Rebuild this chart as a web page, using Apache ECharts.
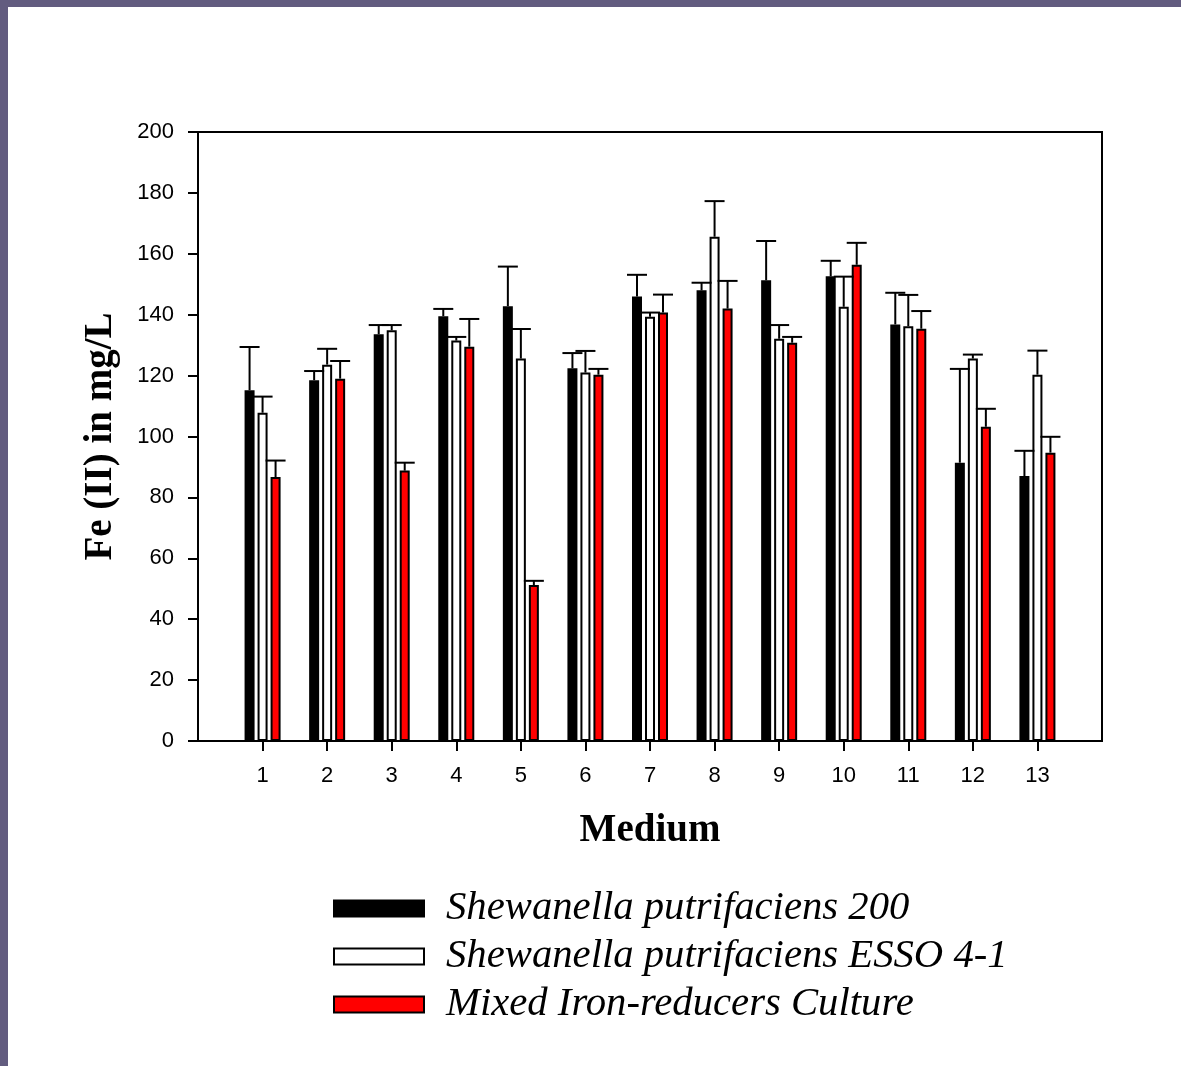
<!DOCTYPE html>
<html>
<head>
<meta charset="utf-8">
<style>
html,body{margin:0;padding:0;background:#fff;}
#chart{width:1181px;height:1066px;}
</style>
<script src="https://cdn.jsdelivr.net/npm/echarts@6/dist/echarts.min.js"></script>
</head>
<body>
<div id="chart"></div>
<script>
// Data
const media = ['1','2','3','4','5','6','7','8','9','10','11','12','13'];
const yTicks = [0,20,40,60,80,100,120,140,160,180,200];
const seriesNames = ['Shewanella putrifaciens 200','Shewanella putrifaciens ESSO 4-1','Mixed Iron-reducers Culture'];
const sp200 = [115.2,118.5,133.6,139.5,142.8,122.4,146.0,148.0,151.3,152.6,136.8,91.4,87.0];
const sp200Err = [14.2,3.0,3.0,2.4,13.0,5.0,7.1,2.5,12.9,5.1,10.4,30.8,8.3];
const esso = [107.8,123.6,134.9,131.5,125.6,121.0,139.3,165.6,132.1,142.6,136.2,125.6,120.3];
const essoErr = [5.3,5.2,1.7,1.2,9.7,7.1,1.4,11.7,4.5,9.9,10.3,1.3,7.9];
const mixed = [86.7,119.0,88.8,129.5,51.2,120.3,140.7,142.0,130.8,156.4,135.4,103.2,94.7];
const mixedErr = [5.4,5.8,2.6,9.1,1.4,1.9,5.9,9.1,1.9,7.2,5.8,5.9,5.2];

const axisCats = [''].concat(media).concat(['']);
const pad = arr => [null].concat(arr).concat([null]);

const BAR_W = 10, GAP = '30%', STEP = 13;

function errSeries(vals, errs, offset) {
  return {
    type: 'custom',
    z: 5,
    silent: true,
    data: vals.map((v, i) => [i + 1, v, v + errs[i]]),
    renderItem: function (params, api) {
      const base = api.coord([api.value(0), api.value(1)]);
      const top = api.coord([api.value(0), api.value(2)]);
      const x = base[0] + offset;
      const st = { stroke: '#000', lineWidth: 2 };
      return {
        type: 'group',
        children: [
          { type: 'line', shape: { x1: x, y1: base[1], x2: x, y2: top[1] }, style: st },
          { type: 'line', shape: { x1: x - 10, y1: top[1], x2: x + 10, y2: top[1] }, style: st }
        ]
      };
    }
  };
}

const chart = echarts.init(document.getElementById('chart'), null, { renderer: 'canvas' });
chart.setOption({
  animation: false,
  backgroundColor: '#ffffff',
  graphic: [
    { type: 'rect', left: 0, top: 0, shape: { width: 1181, height: 7 }, style: { fill: '#625c7f' }, z: 100 },
    { type: 'rect', left: 0, top: 0, shape: { width: 8, height: 1066 }, style: { fill: '#625c7f' }, z: 100 }
  ],
  grid: {
    left: 198, top: 132, width: 904, height: 609,
    show: true, borderColor: '#000', borderWidth: 2, backgroundColor: 'transparent'
  },
  legend: {
    orient: 'vertical',
    left: 333, top: 888,
    padding: 0,
    itemWidth: 90, itemHeight: 16,
    itemGap: 7,
    icon: 'rect',
    data: seriesNames,
    textStyle: {
      fontFamily: '"Liberation Serif", "Times New Roman", serif',
      fontStyle: 'italic', fontSize: 40.7, lineHeight: 40, color: '#000',
      padding: [0, 0, 0, 17]
    }
  },
  xAxis: {
    type: 'category',
    data: axisCats,
    boundaryGap: false,
    name: 'Medium',
    nameLocation: 'middle',
    nameGap: 70,
    nameTextStyle: { fontFamily: '"Liberation Serif", "Times New Roman", serif', fontWeight: 'bold', fontSize: 39, color: '#000' },
    axisLine: { lineStyle: { color: '#000', width: 2 } },
    axisTick: { show: true, length: 10, lineStyle: { color: '#000', width: 2 }, interval: (i) => i > 0 && i < axisCats.length - 1, alignWithLabel: true },
    axisLabel: { interval: (i) => i > 0 && i < axisCats.length - 1, margin: 24, fontFamily: '"Liberation Sans", Arial, sans-serif', fontSize: 22, color: '#000' },
    splitLine: { show: false }
  },
  yAxis: {
    type: 'value',
    min: yTicks[0], max: yTicks[yTicks.length - 1], interval: 20,
    name: 'Fe (II) in mg/L',
    nameLocation: 'middle',
    nameGap: 78,
    nameRotate: 90,
    nameTextStyle: { fontFamily: '"Liberation Serif", "Times New Roman", serif', fontWeight: 'bold', fontSize: 39, color: '#000' },
    axisLine: { show: true, lineStyle: { color: '#000', width: 2 } },
    axisTick: { show: true, length: 10, lineStyle: { color: '#000', width: 2 } },
    axisLabel: { margin: 24, fontFamily: '"Liberation Sans", Arial, sans-serif', fontSize: 22, color: '#000' },
    splitLine: { show: false }
  },
  series: [
    { name: seriesNames[0], type: 'bar', data: pad(sp200), barWidth: BAR_W, barGap: GAP,
      itemStyle: { color: '#000000', borderColor: '#000', borderWidth: 2 } },
    { name: seriesNames[1], type: 'bar', data: pad(esso), barWidth: BAR_W, barGap: GAP,
      itemStyle: { color: '#ffffff', borderColor: '#000', borderWidth: 2 } },
    { name: seriesNames[2], type: 'bar', data: pad(mixed), barWidth: BAR_W, barGap: GAP,
      itemStyle: { color: '#ff0000', borderColor: '#000', borderWidth: 2 } },
    errSeries(sp200, sp200Err, -STEP),
    errSeries(esso, essoErr, 0),
    errSeries(mixed, mixedErr, STEP)
  ]
});
</script>
</body>
</html>
